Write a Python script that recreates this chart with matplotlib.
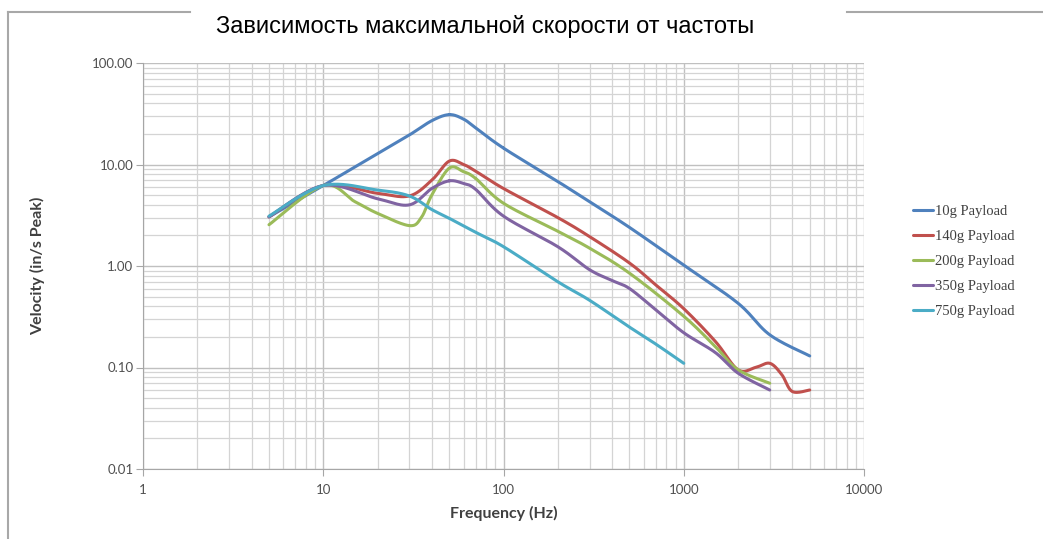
import numpy as np
import matplotlib
matplotlib.use('Agg')
import matplotlib.pyplot as plt
from matplotlib.lines import Line2D
from matplotlib.ticker import LogLocator, FixedLocator, NullFormatter

title = 'Зависимость максимальной скорости от частоты'
x_label = 'Frequency (Hz)'
y_label = 'Velocity (in/s Peak)'
x_ticks = [1, 10, 100, 1000, 10000]
x_tick_labels = ['1', '10', '100', '1000', '10000']
y_ticks = [0.01, 0.1, 1, 10, 100]
y_tick_labels = ['0.01', '0.10', '1.00', '10.00', '100.00']

labels = ['10g Payload', '140g Payload', '200g Payload', '350g Payload', '750g Payload']
colors = ['#4F81BD', '#C0504D', '#9BBB59', '#8064A2', '#4BACC6']

freq_10g = [5, 10, 20, 30, 40, 50, 60, 70, 100, 200, 300, 500, 1000, 2000, 3000, 5000]
vel_10g = [3.05, 6.2, 12.8, 19.5, 27, 31, 28, 23, 14.5, 6.8, 4.3, 2.4, 1.02, 0.43, 0.21, 0.13]

freq_140g = [5, 10, 20, 30, 40, 50, 60, 70, 100, 200, 300, 500, 700, 1000, 1500, 2000, 2500, 3000, 3500, 4000, 5000]
vel_140g = [3.05, 6.2, 5.2, 4.9, 7.0, 10.8, 10.0, 8.6, 5.8, 3.0, 1.95, 1.07, 0.65, 0.38, 0.18, 0.095, 0.1, 0.11, 0.085, 0.058, 0.06]

freq_200g = [5, 10, 15, 20, 30, 35, 40, 50, 60, 70, 100, 200, 300, 500, 1000, 1500, 2000, 3000]
vel_200g = [2.55, 6.2, 4.3, 3.3, 2.5, 3.0, 5.0, 9.2, 8.5, 7.3, 4.15, 2.2, 1.5, 0.85, 0.32, 0.16, 0.095, 0.07]

freq_350g = [5, 10, 20, 30, 40, 50, 60, 70, 100, 200, 300, 400, 500, 700, 1000, 1500, 2000, 3000]
vel_350g = [3.05, 6.2, 4.6, 4.0, 5.8, 6.9, 6.5, 5.7, 3.1, 1.55, 0.92, 0.72, 0.6, 0.37, 0.22, 0.14, 0.088, 0.06]

freq_750g = [5, 10, 20, 30, 40, 50, 70, 100, 200, 300, 500, 700, 1000]
vel_750g = [3.1, 6.2, 5.6, 4.9, 3.6, 2.95, 2.15, 1.55, 0.7, 0.46, 0.25, 0.17, 0.11]

series = [(freq_10g, vel_10g), (freq_140g, vel_140g), (freq_200g, vel_200g),
          (freq_350g, vel_350g), (freq_750g, vel_750g)]


def smooth(x, y, n=24):
    # Catmull-Rom in log-log space, like Excel's "smoothed line"
    p = np.column_stack([np.log10(x), np.log10(y)])
    p = np.vstack([p[0], p, p[-1]])
    t = np.linspace(0, 1, n)[:, None]
    segs = []
    for i in range(1, len(p) - 2):
        p0, p1, p2, p3 = p[i - 1], p[i], p[i + 1], p[i + 2]
        segs.append(0.5 * (2 * p1 + (p2 - p0) * t + (2 * p0 - 5 * p1 + 4 * p2 - p3) * t ** 2
                           + (3 * p1 - p0 - 3 * p2 + p3) * t ** 3))
    s = np.vstack(segs)
    return 10 ** s[:, 0], 10 ** s[:, 1]


W, H = 1043, 539
fig = plt.figure(figsize=(W / 100, H / 100), dpi=100)
ax = fig.add_axes([143 / W, 1 - 469 / H, (864 - 143) / W, (469 - 63) / H])

for (fx, vy), lab, c in zip(series, labels, colors):
    sx, sy = smooth(fx, vy)
    ax.plot(sx, sy, color=c, lw=2.2, label=lab, solid_capstyle='round')

ax.set_xscale('log')
ax.set_yscale('log')
ax.set_xlim(1, 10000)
ax.set_ylim(0.01, 100)

ax.xaxis.set_major_locator(FixedLocator(x_ticks))
ax.set_xticklabels(x_tick_labels)
ax.yaxis.set_major_locator(FixedLocator(y_ticks))
ax.set_yticklabels(y_tick_labels)
ax.xaxis.set_minor_locator(LogLocator(base=10, subs=np.arange(2, 10)))
ax.yaxis.set_minor_locator(LogLocator(base=10, subs=np.arange(2, 10)))
ax.xaxis.set_minor_formatter(NullFormatter())
ax.yaxis.set_minor_formatter(NullFormatter())

ax.grid(which='major', color='#c0c0c0', lw=1.0)
ax.grid(which='minor', color='#d4d4d4', lw=0.9)
ax.set_axisbelow(True)
for s in ['top', 'right']:
    ax.spines[s].set_visible(False)
for s in ['left', 'bottom']:
    ax.spines[s].set_color('#a6a6a6')
ax.tick_params(which='major', length=5, color='#a6a6a6', labelsize=9.5, labelcolor='#505050')
ax.tick_params(which='minor', length=0)
ax.tick_params(axis='x', pad=6)
ax.tick_params(axis='y', pad=2)
for lb in ax.get_xticklabels() + ax.get_yticklabels():
    lb.set_family('Lato')

ax.set_xlabel(x_label, fontsize=11.5, fontweight='bold', family='Lato', color='#404040', labelpad=7)
ax.set_ylabel(y_label, fontsize=11.5, fontweight='bold', family='Lato', color='#404040', labelpad=34)

leg = ax.legend(loc='upper left', bbox_to_anchor=(913 / W, 1 - 205 / H), bbox_transform=fig.transFigure,
                frameon=False, prop={'family': 'Liberation Serif', 'size': 10.5}, handlelength=1.4,
                handletextpad=0.1, labelspacing=0.8, borderpad=0, borderaxespad=0,
                labelcolor='#404040')

# outer frame of the chart image
frame_kw = dict(color='#a8a8a8', lw=1.5, transform=fig.transFigure)
fig.add_artist(Line2D([8 / W, 190 / W], [1 - 12 / H, 1 - 12 / H], **frame_kw))
fig.add_artist(Line2D([847 / W, 1], [1 - 12 / H, 1 - 12 / H], **frame_kw))
fig.add_artist(Line2D([8 / W, 8 / W], [1 - 12 / H, 0], **frame_kw))

fig.text(485 / W, 1 - 26 / H, title, ha='center', va='center', fontsize=17, family='Liberation Sans')

fig.savefig('out.png', dpi=100)
